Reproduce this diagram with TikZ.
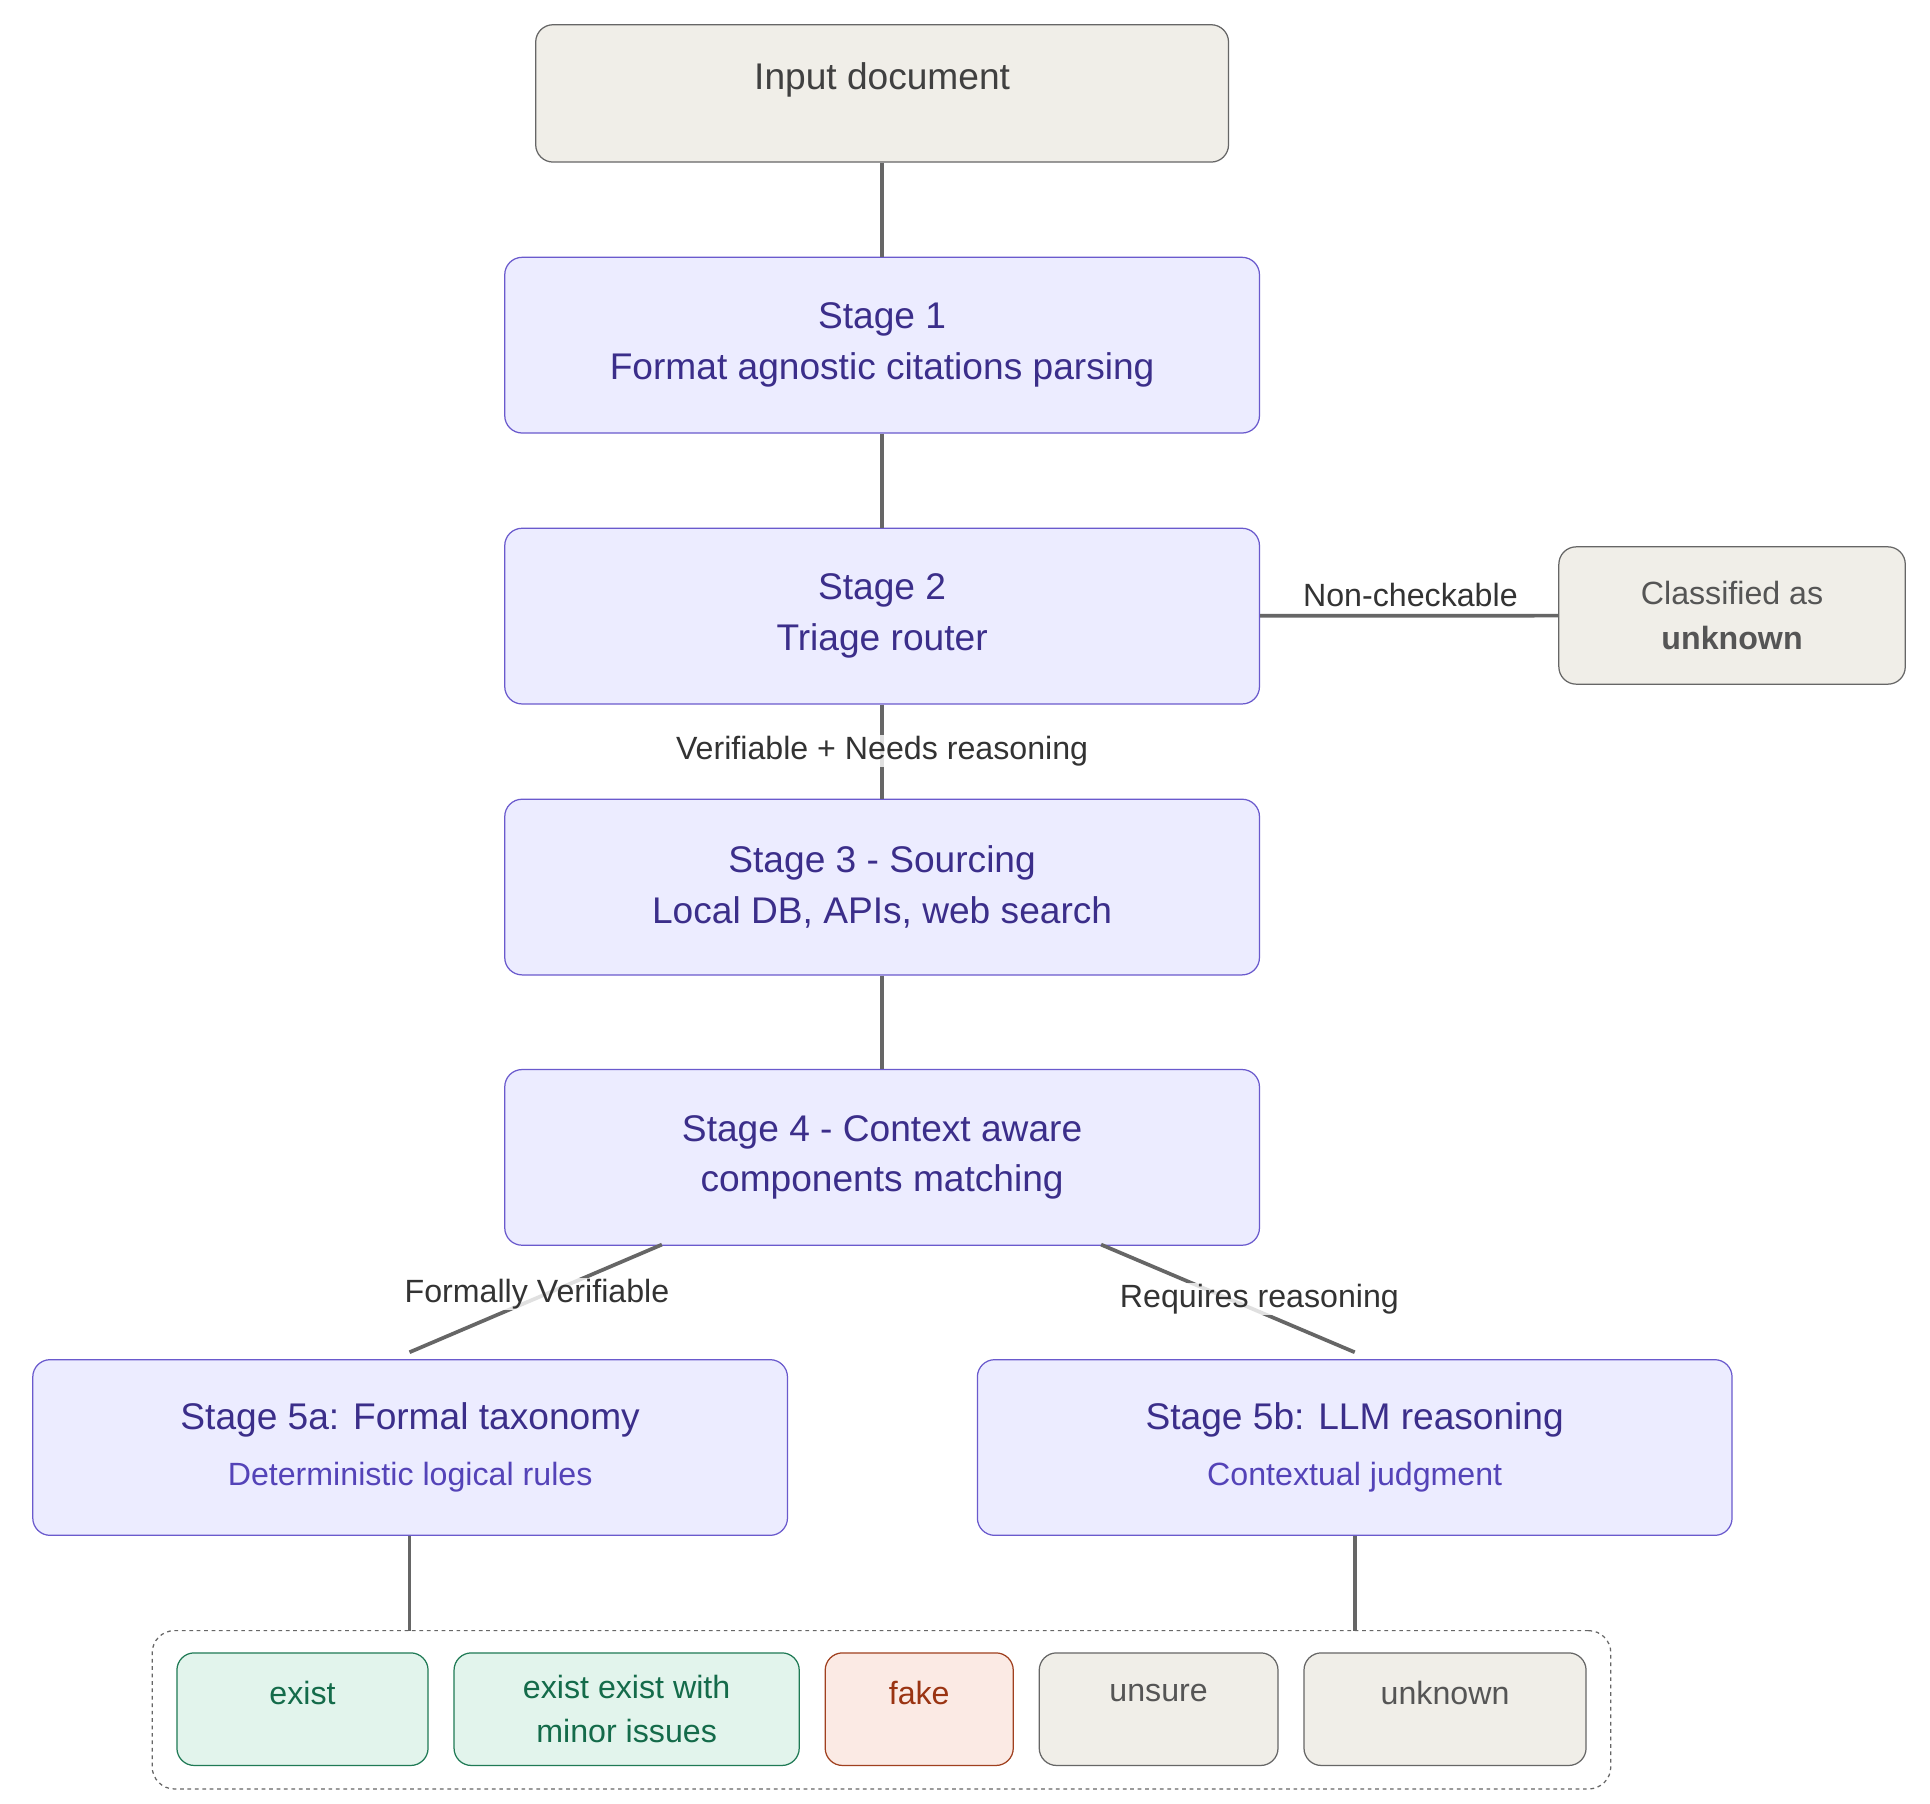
\documentclass[tikz,border=0pt]{standalone}
\usepackage{fontspec}
\setmainfont{Liberation Sans}
\usetikzlibrary{positioning}
\definecolor{stagefill}{HTML}{ECECFF}
\definecolor{stageline}{HTML}{6A5ACD}
\definecolor{stagetext}{HTML}{3B2E8A}
\definecolor{subtext}{HTML}{5443B8}
\definecolor{greyfill}{HTML}{F0EEE8}
\definecolor{greytext}{HTML}{555555}
\definecolor{okfill}{HTML}{E2F4EC}
\definecolor{okline}{HTML}{1F7A55}
\definecolor{oktext}{HTML}{146B4A}
\definecolor{badfill}{HTML}{FBEAE4}
\definecolor{badline}{HTML}{A0401F}
\definecolor{badtext}{HTML}{9A3412}
\definecolor{wire}{HTML}{666666}
\begin{document}
\begin{tikzpicture}[x=1pt, y=-1pt,
  box/.style={draw, rounded corners=14pt, line width=1pt, align=center, inner sep=0pt},
  stage/.style={box, fill=stagefill, draw=stageline, text=stagetext, minimum width=610pt, minimum height=142pt, font=\fontsize{30}{41}\selectfont},
  grey/.style={box, fill=greyfill, draw=wire, text=greytext, font=\fontsize{26}{36}\selectfont},
  leaf/.style={box, minimum height=91pt, font=\fontsize{26}{36}\selectfont},
  ok/.style={leaf, fill=okfill, draw=okline, text=oktext},
  bad/.style={leaf, fill=badfill, draw=badline, text=badtext},
  unk/.style={leaf, fill=greyfill, draw=wire, text=greytext},
  wire/.style={draw=wire, line width=3pt},
  tag/.style={fill=white, fill opacity=0.8, text opacity=1, text=black!80, inner sep=1pt, font=\fontsize{26}{32}\selectfont}]
\useasboundingbox[fill=white] (0,0) rectangle (1560,1458);
% main column
\node[grey, minimum width=560pt, minimum height=111pt, text=black!75, font=\fontsize{30}{36}\selectfont] (input) at (713,75.5) {Input document\\[-8pt]~};
\node[stage] (s1) at (713,279) {Stage 1\\Format agnostic citations parsing};
\node[stage] (s2) at (713,498) {Stage 2\\Triage router};
\node[stage] (s3) at (713,717) {Stage 3 - Sourcing\\Local DB, APIs, web search};
\node[stage] (s4) at (713,935.5) {Stage 4 - Context aware\\components matching};
\node[grey, minimum width=280pt, minimum height=111pt] (unk) at (1400,497.5) {Classified as\\\textbf{unknown}};
% stage 5
\node[stage] (s5a) at (331.5,1170) {Stage 5a: Formal taxonomy\\[4pt]{\color{subtext}\fontsize{26}{36}\selectfont Deterministic logical rules}};
\node[stage] (s5b) at (1095,1170) {Stage 5b: LLM reasoning\\[4pt]{\color{subtext}\fontsize{26}{36}\selectfont Contextual judgment}};
% verdicts
\node[draw=wire, dashed, line width=1pt, rounded corners=18pt, minimum width=1179pt, minimum height=128pt, inner sep=0pt] (verdicts) at (712.5,1382) {};
\node[ok, minimum width=203pt] (exist) at (244.5,1381.5) {exist\\[-10pt]~};
\node[ok, minimum width=279pt] (minor) at (506.5,1381.5) {exist exist with\\minor issues};
\node[bad, minimum width=152pt] (fake) at (743,1381.5) {fake\\[-10pt]~};
\node[unk, minimum width=193pt] (unsure) at (936.5,1381.5) {unsure\\[-10pt]~};
\node[unk, minimum width=228pt] (unknown) at (1168,1381.5) {unknown\\[-10pt]~};
% connectors
\coordinate (s4l) at (535,1006);
\coordinate (s4r) at (890,1006);
\coordinate (s5al) at (331,1093);
\coordinate (s5bl) at (1095,1093);
\coordinate (va) at (331,1318);
\coordinate (vb) at (1095,1318);
\draw[wire] (input) -- (s1);
\draw[wire] (s1) -- (s2);
\draw[wire] (s2) -- (s3);
\draw[wire] (s2) -- (unk);
\draw[wire] (s3) -- (s4);
\draw[wire] (s4l) -- (s5al);
\draw[wire] (s4r) -- (s5bl);
\draw[wire] (s5a.south -| va) -- (va);
\draw[wire] (s5b.south -| vb) -- (vb);
% labels
\node[tag, fill opacity=0] (lnon) at (1140,481) {Non-checkable};
\node[tag] (lver) at (713,607) {Verifiable + Needs reasoning};
\node[tag] (lform) at (434,1046) {Formally Verifiable};
\node[tag] (lreq) at (1018,1050) {Requires reasoning};
\end{tikzpicture}
\end{document}
